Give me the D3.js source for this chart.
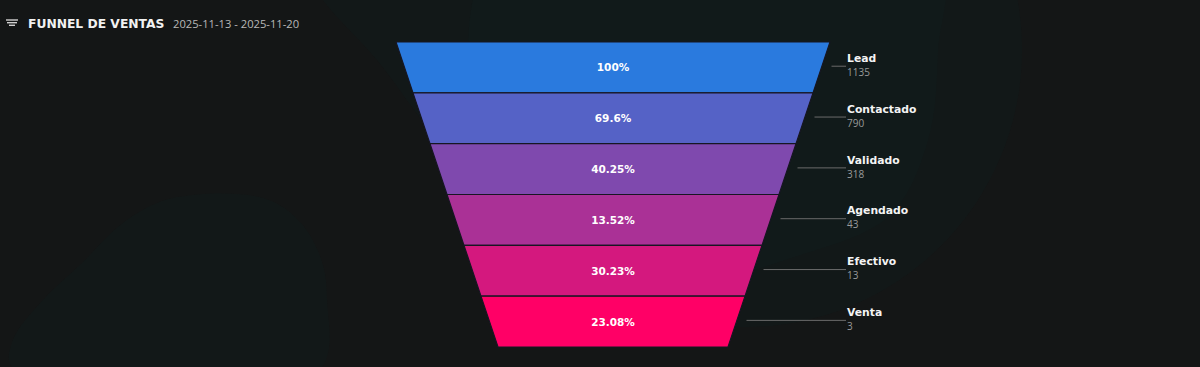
<!DOCTYPE html>
<html><head><meta charset="utf-8">
<script src="https://cdn.jsdelivr.net/npm/d3@7"></script>
<style>html,body{margin:0;padding:0;background:#141616;overflow:hidden}</style>
</head><body><svg id="c" width="1200" height="367"></svg>
<script>
// ---- data ----
const stages = ["Lead", "Contactado", "Validado", "Agendado", "Efectivo", "Venta"];
const counts = [1135, 790, 318, 43, 13, 3];
const chartTitle = "FUNNEL DE VENTAS";
const dateRange = "2025-11-13 - 2025-11-20";

// ---- layout / style ----
const W = 1200, H = 367;
const F = "'DejaVu Sans', 'Open Sans', sans-serif";
const F2 = "'Open Sans', 'DejaVu Sans', sans-serif";
const svg = d3.select("#c");
svg.append("rect").attr("width", W).attr("height", H).attr("fill", "#141616");

// decorative background blobs
const blobLine = d3.line().curve(d3.curveCatmullRomClosed.alpha(0.5));
const decorA = [[300,-40],[323,0],[377,60],[430,130],[520,230],[660,285],[800,255],[890,215],[928,140],[938,50],[935,-40]];
const decorC = [[12,367],[13,340],[43,300],[80,265],[127,220],[173,198],[263,198],[300,222],[322,262],[327,300],[322,367],[200,420]];
svg.append("path").attr("d", blobLine(decorA)).attr("fill", "#0f2020").attr("opacity", 0.32);
svg.append("circle").attr("cx", 745).attr("cy", 50).attr("r", 277).attr("fill", "#0f2020").attr("opacity", 0.32);
svg.append("path").attr("d", blobLine(decorC)).attr("fill", "#0f2020").attr("opacity", 0.32);

// title
const tg = svg.append("g");
[[6,18,20],[7,17,22.7],[9,15,25.3]].forEach(([a,b,yy]) =>
  tg.append("line").attr("x1", a).attr("x2", b).attr("y1", yy).attr("y2", yy)
    .attr("stroke", "#d0d0d0").attr("stroke-width", 1.4));
tg.append("text").attr("x", 28).attr("y", 27.5).attr("fill", "#f2f2f2")
  .attr("font-family", F).attr("font-weight", "bold").attr("font-size", 12.3).text(chartTitle);
tg.append("text").attr("x", 173).attr("y", 27.5).attr("fill", "#b8b8b8")
  .attr("font-family", F2).attr("font-size", 11.2).text(dateRange);

// funnel
const n = stages.length;
const cx = 613;
const y = d3.scaleLinear().domain([0, n]).range([42, 347]);
const half = d3.scaleLinear().domain([0, n]).range([217, 115]);
const color = d3.scaleLinear().domain([0, n - 1]).range(["#2a7ade", "#ff0066"]).interpolate(d3.interpolateRgb);
const pct = counts.map((c, i) => i === 0 ? 100 : +(c / counts[i - 1] * 100).toFixed(2));
const mid = i => (y(i) + y(i + 1)) / 2;

const seg = svg.append("g").selectAll("g").data(stages).join("g");
seg.append("path")
  .attr("d", (d, i) => `M${cx - half(i)},${y(i)}L${cx + half(i)},${y(i)}L${cx + half(i + 1)},${y(i + 1)}L${cx - half(i + 1)},${y(i + 1)}Z`)
  .attr("fill", (d, i) => color(i))
  .attr("stroke", "#161622").attr("stroke-width", 1.2);
seg.append("text")
  .attr("x", cx).attr("y", (d, i) => mid(i) + 4)
  .attr("text-anchor", "middle").attr("fill", "#ffffff")
  .attr("font-family", F).attr("font-weight", "bold").attr("font-size", 10.5)
  .text((d, i) => pct[i] + "%");

// labels
const lx = 847;
seg.append("line")
  .attr("x1", (d, i) => cx + half(i + 0.5) + 10).attr("x2", lx - 1)
  .attr("y1", (d, i) => mid(i) - 1.2).attr("y2", (d, i) => mid(i) - 1.2)
  .attr("stroke", "#6a6a6a").attr("stroke-width", 1);
seg.append("text")
  .attr("x", lx).attr("y", (d, i) => mid(i) - 5.5)
  .attr("fill", "#f4f4f4").attr("font-family", F).attr("font-weight", "bold").attr("font-size", 10.8)
  .text(d => d);
seg.append("text")
  .attr("x", lx).attr("y", (d, i) => mid(i) + 8.5)
  .attr("fill", "#9a9a9a").attr("font-family", F2).attr("font-size", 10)
  .text((d, i) => counts[i]);
</script></body></html>
